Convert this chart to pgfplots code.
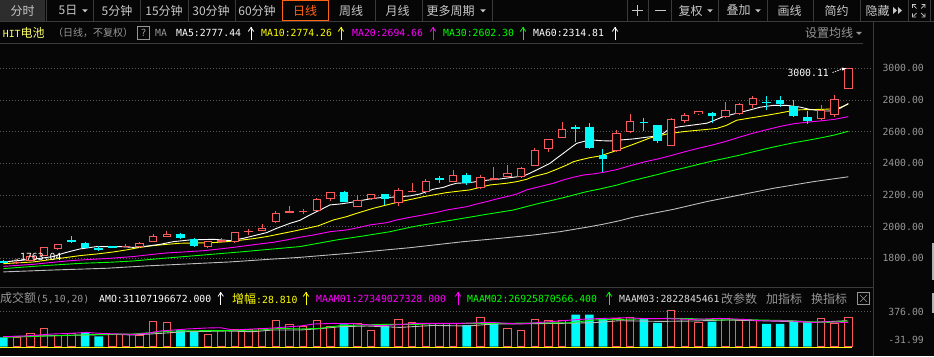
\documentclass[border=0pt]{standalone}
\usepackage{pgfplots}
\pgfplotsset{compat=1.18}
\usepackage{pgfplotstable}
\usepackage{fontspec}
\newfontfamily\cjk{Noto Sans CJK SC}
\newfontfamily\mono{DejaVu Sans Mono}
\newcommand\cj{\cjk\fontsize{12}{14}\selectfont}
\newcommand\cjs{\cjk\fontsize{10}{12}\selectfont}
\newcommand\mo{\mono\fontsize{9.8}{12}\selectfont}

\definecolor{bg}{RGB}{6,6,6}
\definecolor{upred}{RGB}{250,90,90}
\definecolor{dncyan}{RGB}{0,250,250}
\definecolor{ma10}{RGB}{255,255,0}
\definecolor{ma20}{RGB}{255,0,255}
\definecolor{ma30}{RGB}{0,255,0}
\definecolor{ma60}{RGB}{190,190,190}
\definecolor{gridc}{RGB}{90,90,90}
\definecolor{sepc}{RGB}{58,58,58}
\definecolor{txtg}{RGB}{150,150,150}
\definecolor{tbtxt}{RGB}{200,200,200}
\definecolor{tabbg}{RGB}{45,45,45}
\definecolor{orng}{RGB}{255,100,20}
\definecolor{hityel}{RGB}{255,255,110}
\definecolor{lgray}{RGB}{220,220,220}
\definecolor{scrl}{RGB}{180,180,180}

% ---------- candles ----------
\pgfplotstableread{
i o h l c
1 1770 1783 1763.04 1778
2 1785 1820 1780 1815
3 1817 1872 1815 1869
4 1861 1890 1853 1888
9 1873 1888 1872 1876
10 1869 1903 1867 1897
11 1905 1954 1903 1941
12 1937 1973 1935 1956
15 1869 1912 1867 1909
16 1910 1930 1909 1914
17 1901 1966 1899 1964
18 1968 1985 1947 1971
19 1975 2017 1973 1989
20 2029 2097 2025 2084
21 2088 2130 2088 2097
22 2096 2112 2082 2099
23 2101 2181 2099 2173
24 2177 2221 2164 2217
26 2126 2200 2124 2166
27 2175 2208 2166 2204
29 2147 2242 2132 2229
30 2221 2274 2221 2227
31 2217 2300 2204 2286
33 2284 2357 2280 2324
35 2244 2324 2240 2311
36 2299 2377 2298 2304
37 2314 2389 2312 2339
38 2312 2374 2310 2370
39 2385 2495 2383 2484
40 2488 2555 2474 2551
41 2562 2661 2560 2615
45 2476 2610 2474 2589
46 2596 2711 2594 2665
49 2511 2684 2509 2678
50 2669 2716 2657 2703
51 2709 2733 2703 2728
53 2690 2787 2688 2735
54 2710 2783 2705 2772
55 2770 2827 2752 2810
60 2680 2768 2674 2735
61 2706 2832 2695 2804
62 2867 3000.11 2867 3000.11
}\upc

\pgfplotstableread{
i o h l c
0 1782 1788 1770 1776
5 1912 1941 1899 1908
6 1897 1903 1861 1867
7 1861 1876 1846 1857
8 1873 1876 1866 1870
13 1954 1962 1922 1930
14 1920 1930 1874 1880
25 2219 2223 2156 2158
28 2204 2208 2137 2173
32 2307 2320 2276 2293
34 2324 2336 2263 2274
42 2627 2640 2537 2620
43 2627 2653 2491 2499
44 2453 2490 2343 2427
47 2661 2686 2606 2657
48 2640 2644 2531 2543
52 2720 2724 2653 2701
56 2786 2825 2737 2782
57 2800 2825 2755 2773
58 2765 2800 2693 2701
59 2693 2731 2650 2670
}\dnc

% ---------- volume (bar heights, panel units) ----------
\pgfplotstableread{
i v
1 9.0
2 12.7
3 17.7
4 11.3
5 13.3
8 12.0
9 12.0
10 10.7
11 25.5
12 24.3
15 12.5
16 16.2
17 17.2
18 17.2
19 18.0
20 26.3
21 22.5
22 20.5
23 26.3
24 20.3
26 23.3
27 16.5
29 27.3
30 24.5
31 22.8
32 22.8
33 22.8
35 28.7
37 18.3
38 15.7
39 27.3
40 26.3
41 26.3
45 28.0
46 29.3
49 35.7
50 27.7
51 23.7
53 27.7
54 26.3
55 25.7
60 28.3
61 22.7
62 29.3
}\upvol

\pgfplotstableread{
i v
0 9.3
6 13.7
7 10.2
13 16.8
14 15.0
25 22.3
28 20.8
34 21.5
36 24.0
42 32.0
43 32.0
44 28.0
47 28.0
48 23.7
52 25.0
56 22.7
57 22.7
58 25.0
59 24.0
}\dnvol

\pgfplotsset{
  wick/.style 2 args={only marks, mark=*, mark size=0pt, mark options={draw=none,fill=none}, forget plot,
    error bars/.cd, y dir=both, y explicit, error mark=none,
    error bar style={draw=#1, line width=#2}},
}

\begin{document}
\begin{tikzpicture}
\fill[bg] (0,0) rectangle (934pt,356pt);
\useasboundingbox (0,0) rectangle (934pt,356pt);

% ================= price panel =================
\begin{axis}[at={(0pt,69pt)}, anchor=south west, scale only axis,
  width=872.7pt, height=243pt,
  xmin=-0.242, xmax=63.79, ymin=1618.7, ymax=3153.5,
  axis line style={draw=none}, tick style={draw=none}, xtick=\empty,
  ytick={1800,2000,2200,2400,2600,2800,3000},
  yticklabels={1800.00,2000.00,2200.00,2400.00,2600.00,2800.00,3000.00},
  yticklabel pos=right,
  yticklabel style={anchor=east, inner sep=0pt, xshift=51.3pt, font=\mo, text=txtg},
  ymajorgrids, grid style={gridc, line width=0.8pt, dash pattern=on 0.8pt off 2.2pt},
]
% moving averages
\addplot[ma60, line width=0.9pt, forget plot] coordinates {
(0,1714) (3.67,1726) (7.58,1737) (10.52,1752) (13.45,1764) (16.63,1777) (19.57,1794)
(21.77,1806) (25.44,1832) (29.84,1867) (33.75,1905) (36.44,1926) (38.89,1947)
(40.85,1968) (42.8,1996) (44,2015) (45.25,2038) (46.23,2060) (49.16,2109) (51.61,2158)
(54.05,2200) (56.5,2242) (59.43,2284) (62,2314.81)};
\addplot[ma30, line width=0.9pt, forget plot] coordinates {
(0,1735) (2.69,1752) (5.63,1768) (7.83,1775) (9.54,1783) (11.74,1800) (14.43,1819)
(17.37,1840) (19.81,1859) (21.77,1874) (24.46,1916) (26.42,1941) (28.37,1968)
(30.08,2000) (31.8,2025) (33.75,2053) (35.47,2078) (37.42,2105) (39.13,2143)
(41.09,2183) (42.8,2221) (43.78,2238) (45,2262) (46,2287) (47,2308) (48,2329)
(49,2352) (50,2372) (51,2393) (52,2414) (53,2432) (54,2451) (55,2472) (56,2493)
(57,2512) (58,2530) (59,2545) (60,2561) (61,2579) (62,2602.30)};
\addplot[ma20, line width=0.9pt, forget plot] coordinates {
(0,1749) (2.2,1762) (3.43,1773) (4.65,1783) (5.63,1789) (7.83,1800) (9.54,1811)
(10.76,1823) (11.99,1834) (13.21,1840) (14.68,1848) (15.66,1857) (16.88,1869)
(17.86,1880) (18.83,1891) (19.81,1901) (20.79,1916) (21.77,1933) (22.75,1947)
(23.97,1968) (25.19,1979) (26.17,1996) (26.91,2011) (28.13,2025) (28.86,2042)
(29.84,2059) (30.82,2074) (31.8,2090) (32.53,2105) (34,2126) (34.73,2143)
(35.47,2158) (36.2,2175) (36.93,2189) (37.67,2206) (38.4,2232) (39.38,2253)
(40.36,2274) (41.09,2295) (41.83,2312) (42.56,2326) (43.29,2333) (44.03,2343)
(45,2360) (46,2385) (47,2408) (48,2427) (49,2449) (50,2473) (51,2495) (52,2515)
(53,2538) (54,2565) (55,2590) (56,2612) (57,2633) (58,2650) (59,2660) (60,2668)
(61,2678) (62,2694.66)};
\addplot[ma10, line width=0.9pt, forget plot] coordinates {
(0,1766) (2.2,1777) (3.67,1794) (5.63,1817) (6.85,1827) (8.07,1840) (9.05,1853)
(10.03,1869) (11.01,1880) (11.99,1888) (12.96,1895) (15.41,1899) (16.39,1905)
(17.37,1914) (18.35,1924) (19.32,1937) (20.3,1954) (21.28,1971) (22.26,1989)
(23.1,2005) (24.22,2042) (25.19,2063) (25.93,2084) (27.15,2116) (28.13,2137)
(29.11,2158) (30.08,2175) (30.82,2189) (31.55,2200) (32.53,2215) (33.51,2225)
(34.24,2232) (34.98,2248) (35.71,2263) (36.93,2274) (37.67,2284) (38.4,2299)
(38.89,2316) (39.87,2337) (40.6,2362) (41.34,2389) (41.83,2410) (42.31,2421)
(43.05,2436) (43.78,2446) (44.76,2474) (46.23,2520) (47.45,2560) (48.67,2585)
(49.89,2600) (51.12,2610) (52.34,2620) (53.07,2640) (53.81,2672) (54.79,2686)
(56.01,2703) (56.99,2718) (57.72,2730) (58.45,2738) (60.17,2741) (60.9,2744)
(61.39,2752) (62,2774.26)};
\addplot[white, line width=0.9pt, forget plot] coordinates {
(0,1777) (2.2,1794) (3.67,1811) (4.4,1832) (5.02,1846) (5.63,1859) (6.85,1874)
(8.56,1874) (9.54,1869) (10.27,1874) (11.5,1888) (12.47,1905) (13.7,1916)
(15.41,1920) (16.63,1912) (17.61,1926) (18.59,1947) (19.32,1962) (20.05,1989)
(21.04,2021) (21.77,2040) (22.5,2074) (23.24,2105) (23.97,2137) (24.7,2143)
(25.44,2152) (26.17,2164) (26.91,2175) (27.64,2183) (28.37,2185) (29.11,2189)
(29.84,2194) (30.57,2206) (31.06,2221) (31.55,2236) (32.29,2248) (32.78,2263)
(33.26,2274) (34.24,2278) (34.98,2288) (35.71,2295) (36.44,2301) (37.42,2312)
(38.16,2320) (38.64,2337) (39.13,2358) (39.62,2379) (40.11,2400) (40.6,2432)
(41.09,2463) (41.58,2495) (42.07,2526) (42.8,2543) (43.29,2547) (43.78,2543)
(44.51,2541) (45.25,2547) (46.23,2554) (46.96,2562) (47.94,2573) (48.43,2589)
(48.92,2621) (49.65,2631) (50.63,2642) (51.61,2653) (52.1,2669) (52.83,2695)
(53.81,2716) (54.79,2737) (55.52,2754) (56.5,2766) (57.47,2766) (58.45,2755)
(59.19,2740) (60.17,2730) (60.9,2731) (61.39,2747) (62,2777.44)};
% candles: wicks
\addplot[wick={upred}{1pt}] table[x=i, y expr={(\thisrow{h}+\thisrow{l})/2}, y error expr={(\thisrow{h}-\thisrow{l})/2}] {\upc};
\addplot[wick={dncyan}{1pt}] table[x=i, y expr={(\thisrow{h}+\thisrow{l})/2}, y error expr={(\thisrow{h}-\thisrow{l})/2}] {\dnc};
% candles: bodies
\addplot[wick={upred}{8.4pt}] table[x=i, y expr={(\thisrow{o}+\thisrow{c})/2}, y error expr={max(abs(\thisrow{c}-\thisrow{o})/2,3.3)}] {\upc};
\addplot[wick={bg}{6.4pt}] table[x=i, y expr={(\thisrow{o}+\thisrow{c})/2}, y error expr={max(abs(\thisrow{c}-\thisrow{o})/2-6.3,0)}] {\upc};
\addplot[wick={dncyan}{8.6pt}] table[x=i, y expr={(\thisrow{o}+\thisrow{c})/2}, y error expr={max(abs(\thisrow{c}-\thisrow{o})/2,3.3)}] {\dnc};
\end{axis}

% ================= volume panel =================
\begin{axis}[at={(0pt,0pt)}, anchor=south west, scale only axis,
  width=872.7pt, height=69pt,
  xmin=-0.242, xmax=63.79, ymin=-9.3, ymax=59.7,
  axis line style={draw=none}, tick style={draw=none}, xtick=\empty,
  ytick={6.7,35}, yticklabels={-31.99,376.00},
  yticklabel pos=right,
  yticklabel style={anchor=east, inner sep=0pt, xshift=51.3pt, font=\mo, text=txtg},
  extra y ticks={35}, extra y tick labels={}, extra y tick style={grid=major},
  grid style={gridc, line width=0.8pt, dash pattern=on 0.8pt off 2.2pt},
]
\addplot[ybar, bar width=8.6pt, fill=dncyan, draw=none, forget plot] table[x=i,y=v] {\dnvol};
\addplot[ybar, bar width=7.4pt, fill=bg, draw=upred, line width=1pt, forget plot] table[x=i,y=v] {\upvol};
\addplot[lgray!85!black, line width=0.9pt, forget plot] coordinates {
(0,10) (2.2,10.7) (4.6,11.3) (8.3,12.3) (9.5,11.7) (11.5,13.3) (13.4,15) (14.9,15.3)
(16.4,15.7) (18.3,15) (19.8,16.7) (21.8,16.7) (23.2,18) (24.7,20) (26.7,20.7)
(27.9,20) (29.1,19.3) (31.6,21.3) (34,20.7) (36,22.7) (40.8,23.3) (43.3,24)
(45.2,26) (48.2,25.3) (50.6,25.7) (53.1,26.7) (55.5,26) (57.95,25) (59.4,24.3)
(60.4,25) (61.9,26)};
\addplot[ma30, line width=0.9pt, forget plot] coordinates {
(0,9.3) (1.7,10) (4.6,11.3) (7.1,12.3) (9.5,12.7) (11,14.3) (12.5,15.7) (14.4,16)
(16.4,16) (18.8,16.7) (20.3,18.3) (21.8,17.7) (23.2,18.3) (24.7,21) (26.2,21.7)
(27.9,22.3) (30.3,22.3) (31.6,23) (34,23.3) (36,23.3) (41.6,24) (43.3,26.7)
(45.2,27.3) (48.7,28.3) (50.6,28) (52.6,26.7) (54.3,27.3) (55.5,26.7) (57.95,26)
(59.2,25) (60.6,24.3) (62,25.7)};
\addplot[ma20, line width=0.9pt, forget plot] coordinates {
(0,10) (1.6,10.7) (3.6,12.7) (4.9,13.3) (6.1,14.3) (7.1,13.3) (9.5,12.3) (10.5,13.3)
(11.5,15.7) (12.5,16.7) (13.5,17.7) (14.9,18.7) (15.9,19) (16.9,16.7) (18.3,17.7)
(19.3,18.3) (20.1,19) (21,20) (21.8,20.7) (22.8,22.7) (24.2,23.3) (25.7,23)
(27.6,21) (28.6,21.7) (30.3,23.3) (31.6,23.3) (33.5,23.3) (35.7,24.3) (37.9,22.7)
(40.1,25) (42.3,27.3) (44,28.3) (45.7,29) (47.2,28) (48.7,28) (50.6,27.3)
(52.6,28.3) (54.3,27.3) (55.5,26) (57.9,25.7) (59.4,24.3) (60.4,25) (61.6,24.3) (62,24.3)};
\addplot[ma10, line width=1pt, forget plot] coordinates {(-0.242,-0.5) (62.3,-0.5)};
\end{axis}

% ================= frame, toolbar and texts (image pixel coordinates) =================
\begin{scope}[x=1pt, y=-1pt, shift={(0pt,356pt)}]
\tikzset{tb/.style={inner sep=0pt, text=tbtxt, font=\cj},
         tx/.style={inner sep=0pt, anchor=west}}
% toolbar
\fill[tabbg] (0,0) rectangle (45.3,20.7);
\draw[sepc] (0,21) -- (934,21);
\foreach \s in {45.7,93.3,140,187.7,235,375,422,491.7,626.7,648.3,670.7,718.3,766.7,813.3,860,907.7,930}
  \draw[sepc] (\s,0) -- (\s,20.7);
\draw[orng] (282,0.5) rectangle (328,20.5);
\node[tb] at (22.5,10.5) {分时};
\node[tb] at (68,10.5) {5日};
\node[tb] at (117,10.5) {5分钟};
\node[tb] at (164,10.5) {15分钟};
\node[tb] at (211,10.5) {30分钟};
\node[tb] at (257,10.5) {60分钟};
\node[tb, text=orng] at (305,10.5) {日线};
\node[tb] at (351,10.5) {周线};
\node[tb] at (397.5,10.5) {月线};
\node[tb] at (450.5,10.5) {更多周期};
\node[tb] at (690.5,10.5) {复权};
\node[tb] at (738.5,10.5) {叠加};
\node[tb] at (789.5,10.5) {画线};
\node[tb] at (836.5,10.5) {简约};
\node[tb] at (877.5,10.5) {隐藏};
\foreach \t in {85,483,710,758}
  \fill[tbtxt] (\t-2.8,9.3) -- (\t+2.8,9.3) -- (\t,12.3) -- cycle;
\draw[tbtxt, line width=0.8pt] (632,10.5) -- (643,10.5) (637.5,5) -- (637.5,16);
\draw[tbtxt, line width=0.8pt] (655,10.5) -- (665.5,10.5);
\fill[tbtxt] (893,7) -- (897,10.5) -- (893,14) -- cycle;
\fill[tbtxt] (898,7) -- (902,10.5) -- (898,14) -- cycle;
\draw[tbtxt, line width=0.7pt] (912.5,8) -- (912.5,4.5) -- (916,4.5)
  (921.5,4.5) -- (925,4.5) -- (925,8) (912.5,13.5) -- (912.5,17) -- (916,17)
  (921.5,17) -- (925,17) -- (925,13.5)
  (913.5,5.5) -- (916.5,8.5) (924,5.5) -- (921,8.5) (913.5,16) -- (916.5,13) (924,16) -- (921,13);
% header line of price panel
\node[tx, text=hityel, font=\cj] at (2.7,33) {{\mo HIT}电池};
\node[tx, text=txtg, font=\cjs] at (53,33) {（日线，不复权）};
\draw[txtg] (137.5,26.5) rectangle (149.5,39.5);
\node[inner sep=0pt, text=txtg, font=\mo] at (143.5,33) {?};
\node[tx, text=txtg, font=\mo] at (155,33) {MA};
\node[tx, text=white, font=\mo] at (176,33) {MA5:2777.44};
\node[tx, text=ma10, font=\mo] at (261,33) {MA10:2774.26};
\node[tx, text=ma20, font=\mo] at (352,33) {MA20:2694.66};
\node[tx, text=ma30, font=\mo] at (443,33) {MA30:2602.30};
\node[tx, text=white, font=\mo] at (533,33) {MA60:2314.81};
\foreach \ax/\ac in {251/white,341/ma10,433/ma20,523/ma30,615/white}{
  \draw[\ac, line width=0.8pt] (\ax,40.5) -- (\ax,27.5);
  \draw[\ac, line width=0.8pt] (\ax-2.7,31.5) -- (\ax,27.5) -- (\ax+2.7,31.5);
}
\node[tx, text=txtg, font=\cj] at (805,33) {设置均线};
\fill[txtg] (859-2.8,32) -- (859+2.8,32) -- (859,35) -- cycle;
\draw[sepc] (0,43.3) -- (862.7,43.3);
% frame lines
\draw[sepc] (872.7,21) -- (872.7,356);
\draw[sepc] (0,287.3) -- (872.7,287.3);
\fill[scrl] (931.5,243) rectangle (934,280);
\fill[scrl] (932,293) rectangle (934,313);
% extreme value marks
\node[anchor=east, inner sep=0pt, text=white, font=\mo] at (829,73) {3000.11};
\draw[white, line width=0.7pt, dash pattern=on 1.5pt off 1pt] (832.5,72.5) -- (843,68.8);
\fill[white] (841.5,67.6) -- (846.5,68.3) -- (842.5,70.6) -- cycle;
\node[anchor=west, inner sep=0pt, text=white, font=\mo] at (20,256.5) {1763.04};
\draw[white, line width=0.7pt, dash pattern=on 1.5pt off 1pt] (9.5,262) -- (19.5,258.5);
% volume header
\node[tx, text=txtg, font=\cj] at (0,298.5) {成交额{\mo (5,10,20)}};
\node[tx, text=white, font=\mo] at (99,298.5) {AMO:31107196672.000};
\node[tx, text=ma10, font=\cj] at (232,298.5) {增幅{\mo :28.810}};
\node[tx, text=ma20, font=\mo] at (316,298.5) {MAAM01:27349027328.000};
\node[tx, text=ma30, font=\mo] at (467,298.5) {MAAM02:26925870566.400};
\node[tx, text=lgray, font=\mo] at (619,298.5) {MAAM03:2822845461};
\foreach \ax/\ac in {220.7/white,306/ma10,458/ma20,609/ma30}{
  \draw[\ac, line width=0.8pt] (\ax,305.5) -- (\ax,292.5);
  \draw[\ac, line width=0.8pt] (\ax-2.7,296.5) -- (\ax,292.5) -- (\ax+2.7,296.5);
}
\node[tx, text=txtg, font=\cj] at (721,298.5) {改参数};
\node[tx, text=txtg, font=\cj] at (766,298.5) {加指标};
\node[tx, text=txtg, font=\cj] at (811,298.5) {换指标};
\draw[txtg] (857.5,292.5) rectangle (869.5,304.5);
\draw[txtg] (860,295) -- (867,302) (867,295) -- (860,302);
\end{scope}
\end{tikzpicture}
\end{document}
